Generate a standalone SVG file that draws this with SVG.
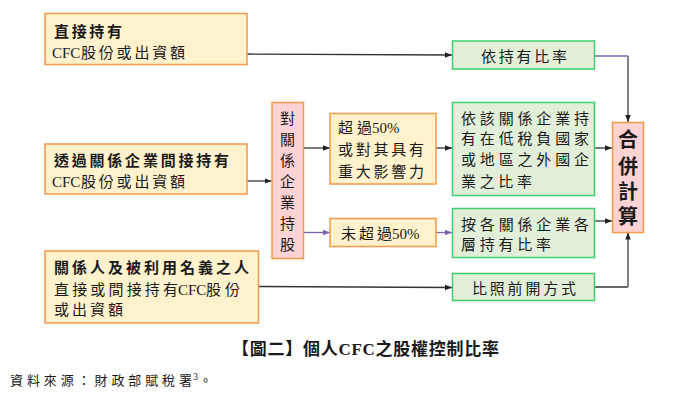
<svg xmlns="http://www.w3.org/2000/svg" width="693" height="402" viewBox="0 0 693 402">
<defs>
<marker id="ah" viewBox="0 0 10 10" refX="10" refY="5" markerWidth="7" markerHeight="7" markerUnits="userSpaceOnUse" orient="auto">
<path d="M0,1 L10,5 L0,9 z" fill="#222"/>
</marker>
<marker id="ahp" viewBox="0 0 10 10" refX="10" refY="5" markerWidth="7" markerHeight="7" markerUnits="userSpaceOnUse" orient="auto">
<path d="M0,1 L10,5 L0,9 z" fill="#7E62B0"/>
</marker>
<style>
.src{fill:#FFF2CC;stroke:#F5984A;stroke-width:1.5}
.grn{fill:#E2F0D9;stroke:#3DCF6E;stroke-width:1.5}
.pnk{fill:#FFD3D3;stroke:#F5984A;stroke-width:1.5}
text{font-family:"Liberation Serif","Noto Sans CJK TC",serif;fill:#1a1a1a;font-size:15px}
.b{font-weight:bold}
.vt{text-anchor:middle}
.big{font-size:20px;font-weight:bold;text-anchor:middle}
.c{stroke:#333;stroke-width:1.3;fill:none}
.cp{stroke:#7E62B0;stroke-width:1.3;fill:none}
.cg{stroke:#808080;stroke-width:2;fill:none}
</style>
</defs>

<g id="connectors">
<path class="c" d="M247,54 L452,55" marker-end="url(#ah)"/>
<path class="cp" d="M595,56 L628,56"/>
<path class="cg" d="M628,56 L628,122" marker-end="url(#ah)"/>
<path class="c" d="M247,181 L271.5,181" marker-end="url(#ah)"/>
<path class="c" d="M303.5,148 L330,148" marker-end="url(#ah)"/>
<path class="cp" d="M303.5,232.5 L330,232.5" marker-end="url(#ahp)"/>
<path class="c" d="M436,148 L452,148" marker-end="url(#ah)"/>
<path class="cp" d="M436,232.5 L452,232.5" marker-end="url(#ahp)"/>
<path class="c" d="M595,148 L612,148" marker-end="url(#ah)"/>
<path class="c" d="M595,221 L612,221" marker-end="url(#ah)"/>
<path class="c" d="M259,286.5 L452,287.5" marker-end="url(#ah)"/>
<path class="c" d="M595,287 L628,287"/>
<path class="cg" d="M628,287 L628,232.5" marker-end="url(#ah)"/>
</g>

<g id="direct">
<rect class="src" x="45" y="13.5" width="202" height="51"/>
<text class="b" x="54" y="37" textLength="68" lengthAdjust="spacing">直接持有</text>
<text x="52" y="58">CFC</text>
<text x="81" y="58" textLength="104" lengthAdjust="spacing">股份或出資額</text>
</g>

<g id="indirect">
<rect class="src" x="45" y="144" width="202" height="50"/>
<text class="b" x="54" y="165.5" textLength="175" lengthAdjust="spacing">透過關係企業間接持有</text>
<text x="52" y="186.5">CFC</text>
<text x="81" y="186.5" textLength="104" lengthAdjust="spacing">股份或出資額</text>
</g>

<g id="related">
<rect class="src" x="45" y="251" width="213.5" height="72"/>
<text class="b" x="54" y="273" textLength="195" lengthAdjust="spacing">關係人及被利用名義之人</text>
<text x="54" y="294.5" textLength="124" lengthAdjust="spacing">直接或間接持有</text>
<text x="178" y="294.5">CFC</text>
<text x="206" y="294.5" textLength="34" lengthAdjust="spacing">股份</text>
<text x="54" y="314.5" textLength="69" lengthAdjust="spacing">或出資額</text>
</g>

<g id="affiliate">
<rect class="pnk" x="272" y="102.5" width="31.5" height="156"/>
<text class="vt" x="287.5" y="123.5">對</text>
<text class="vt" x="287.5" y="144.5">關</text>
<text class="vt" x="287.5" y="165.5">係</text>
<text class="vt" x="287.5" y="186.5">企</text>
<text class="vt" x="287.5" y="207.5">業</text>
<text class="vt" x="287.5" y="228.5">持</text>
<text class="vt" x="287.5" y="250">股</text>
</g>

<g id="over50">
<rect class="src" x="330" y="113.5" width="106" height="70.5"/>
<text x="338" y="133" textLength="34" lengthAdjust="spacing">超過</text>
<text x="372" y="133">50%</text>
<text x="338" y="154.5" textLength="86" lengthAdjust="spacing">或對其具有</text>
<text x="338" y="176.5" textLength="86" lengthAdjust="spacing">重大影響力</text>
</g>

<g id="under50">
<rect class="src" x="330" y="218.5" width="106" height="28"/>
<text x="341" y="238.5" textLength="51" lengthAdjust="spacing">未超過</text>
<text x="392" y="238.5">50%</text>
</g>

<g id="byratio">
<rect class="grn" x="452.5" y="41" width="142" height="28"/>
<text x="481" y="62" textLength="86" lengthAdjust="spacing">依持有比率</text>
</g>

<g id="lowtax">
<rect class="grn" x="452.5" y="102.5" width="142" height="93"/>
<text x="461" y="123.5" textLength="128" lengthAdjust="spacing">依該關係企業持</text>
<text x="461" y="144" textLength="128" lengthAdjust="spacing">有在低稅負國家</text>
<text x="461" y="165" textLength="128" lengthAdjust="spacing">或地區之外國企</text>
<text x="461" y="186.5" textLength="71" lengthAdjust="spacing">業之比率</text>
</g>

<g id="layers">
<rect class="grn" x="452.5" y="208.5" width="142" height="49"/>
<text x="461" y="229.5" textLength="128" lengthAdjust="spacing">按各關係企業各</text>
<text x="461" y="250" textLength="90" lengthAdjust="spacing">層持有比率</text>
</g>

<g id="same">
<rect class="grn" x="452.5" y="273.5" width="142" height="27"/>
<text x="472" y="294" textLength="104" lengthAdjust="spacing">比照前開方式</text>
</g>

<g id="combine">
<rect class="pnk" x="612.5" y="122.5" width="31" height="110"/>
<text class="big" x="628" y="147">合</text>
<text class="big" x="628" y="173.5">併</text>
<text class="big" x="628" y="198.5">計</text>
<text class="big" x="628" y="223.5">算</text>
</g>

<text class="b" x="232" y="355" style="font-size:17px" textLength="267" lengthAdjust="spacing">【圖二】個人CFC之股權控制比率</text>
<text x="10" y="385" style="font-size:13px" textLength="182" lengthAdjust="spacing">資料來源：財政部賦稅署</text>
<text x="193" y="380" style="font-size:10px">3</text>
<text x="199" y="385" style="font-size:13px">。</text>
</svg>
